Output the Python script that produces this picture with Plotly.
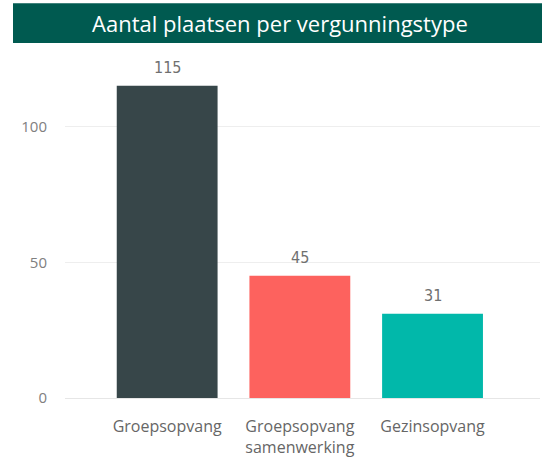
import plotly.graph_objects as go

categories = ["Groepsopvang", "Groepsopvang<br>samenwerking", "Gezinsopvang"]
values = [115, 45, 31]
colors = ["#374649", "#FD625E", "#01B8AA"]
title_text = "Aantal plaatsen per vergunningstype"

fig = go.Figure(go.Bar(
    x=[0, 1, 2], y=values,
    marker=dict(color=colors, line=dict(width=0)),
    width=0.76,
    cliponaxis=False,
    hoverinfo="skip",
))

L, R, T, B = 65, 2, 60, 60
label_annots = [dict(
    x=i, y=v, xref="x", yref="y", text=str(v), showarrow=False,
    xanchor="center", yanchor="middle", yshift=18,
    font=dict(family="DejaVu Sans Condensed, Roboto Condensed, Roboto", size=16, color="#707070"),
) for i, v in enumerate(values)]

fig.update_layout(
    width=542, height=460,
    margin=dict(l=L, r=R, t=T, b=B),
    paper_bgcolor="white", plot_bgcolor="white",
    showlegend=False,
    font=dict(family="Open Sans, Noto Sans, sans-serif", color="#777777"),
    xaxis=dict(
        tickmode="array", tickvals=[0, 1, 2], ticktext=categories,
        range=[-0.77, 2.81], showgrid=False, zeroline=False,
        showline=False, tickfont=dict(size=16, color="#666666"),
        ticks="outside", ticklen=14, tickcolor="rgba(0,0,0,0)",
    ),
    yaxis=dict(
        range=[0, 124.5], tickvals=[0, 50, 100],
        showgrid=True, gridcolor="#eeeeee", gridwidth=1,
        zeroline=True, zerolinecolor="#e6e6e6", zerolinewidth=1,
        showline=False, tickfont=dict(size=15, color="#808080"),
        ticks="outside", ticklen=14, tickcolor="rgba(0,0,0,0)",
    ),
    shapes=[dict(
        type="rect", xref="paper", yref="paper",
        x0=(13 - L) / 475, x1=(542 - L) / 475,
        y0=(400 - 43) / 340, y1=(400 - 3) / 340,
        fillcolor="#005A50", line=dict(width=0), layer="above",
    )],
    annotations=[dict(
        text=title_text, xref="paper", yref="paper",
        x=(280 - L) / 475, y=(400 - 23) / 340,
        xanchor="center", yanchor="middle", showarrow=False,
        font=dict(family="Open Sans, Noto Sans, sans-serif", size=22, color="white"),
    )] + label_annots,
)

fig.write_html("out.html", config={"displayModeBar": False},
               post_script="document.body.style.margin='0';")
